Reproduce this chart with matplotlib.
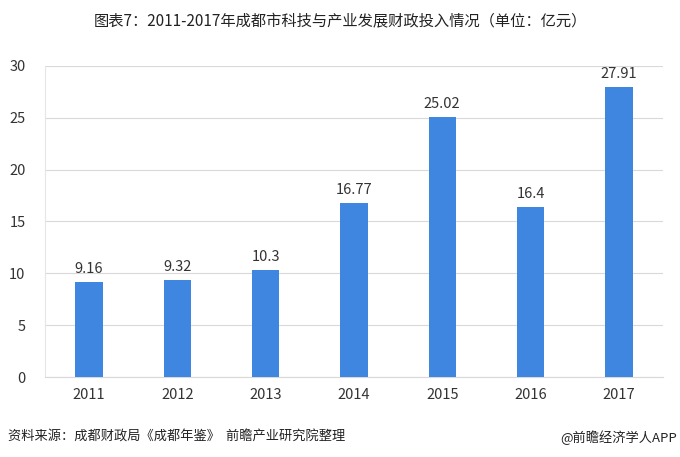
import numpy as np
import matplotlib.pyplot as plt

plt.rcParams['font.family'] = ['Noto Sans CJK SC', 'DejaVu Sans']

# data
years = ['2011', '2012', '2013', '2014', '2015', '2016', '2017']
values = [9.16, 9.32, 10.3, 16.77, 25.02, 16.4, 27.91]
value_labels = ['9.16', '9.32', '10.3', '16.77', '25.02', '16.4', '27.91']

fig = plt.figure(figsize=(6.8, 4.57), dpi=100)
ax = fig.add_axes([0.066, 0.175, 0.909, 0.681])

x = np.arange(len(years))
bars = ax.bar(x, values, width=0.31, color='#3F86E0', zorder=3)
for b, lab in zip(bars, value_labels):
    ax.text(b.get_x() + b.get_width() / 2, b.get_height() + 0.6, lab,
            ha='center', va='bottom', fontsize=10.5, color='#333333')

ax.set_xlim(-0.5, len(years) - 0.5)
ax.set_ylim(0, 30)
ax.set_yticks(range(0, 31, 5))
ax.set_xticks(x)
ax.set_xticklabels(years)
ax.tick_params(axis='both', length=0, labelsize=10.5, colors='#333333')
ax.tick_params(axis='y', pad=14)
ax.tick_params(axis='x', pad=8)
ax.grid(axis='y', color='#D9D9D9', linewidth=0.8, zorder=0)
for s in ['top', 'right']:
    ax.spines[s].set_visible(False)
ax.spines['left'].set_color('#E6E6E6')
ax.spines['bottom'].set_color('#D9D9D9')

fig.text(0.5, 0.955, '图表7：2011-2017年成都市科技与产业发展财政投入情况（单位：亿元）',
         ha='center', va='center', fontsize=11, color='#222222')
fig.text(0.012, 0.043, '资料来源：成都财政局《成都年鉴》  前瞻产业研究院整理',
         ha='left', va='center', fontsize=9.5, style='italic', color='#222222')
fig.text(0.995, 0.043, '@前瞻经济学人APP',
         ha='right', va='center', fontsize=9.5, color='#222222')

fig.savefig('out.png', dpi=100)
